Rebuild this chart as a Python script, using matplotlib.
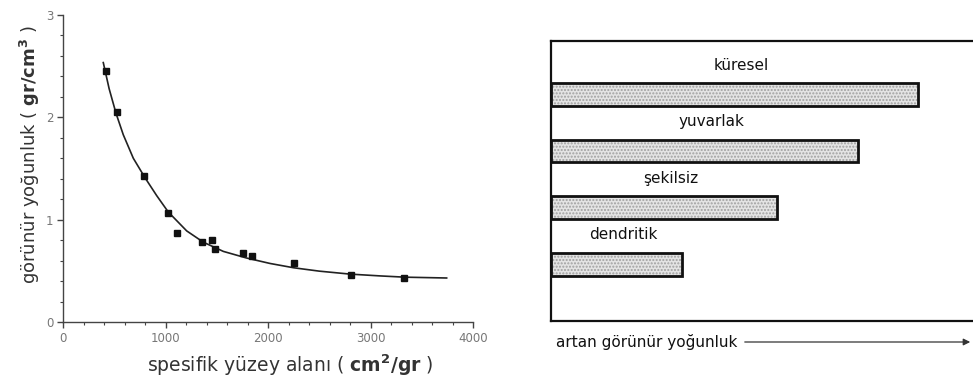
import matplotlib
matplotlib.use('Agg')
import matplotlib.pyplot as plt
from matplotlib.ticker import MultipleLocator

# left panel: measured points
area = [420, 524, 794, 1021, 1112, 1353, 1454, 1483, 1756, 1847, 2251, 2813, 3330]
density = [2.45, 2.05, 1.43, 1.07, 0.87, 0.78, 0.80, 0.71, 0.67, 0.645, 0.58, 0.46, 0.43]

# fitted curve
curve_x = [393, 450, 517, 588, 686, 800, 914, 1027, 1207, 1369, 1564, 1792, 2020, 2250, 2500, 2800, 3100, 3337, 3743]
curve_y = [2.535, 2.28, 2.04, 1.83, 1.60, 1.41, 1.235, 1.075, 0.89, 0.78, 0.69, 0.625, 0.572, 0.53, 0.497, 0.468, 0.45, 0.438, 0.43]

# right panel: shapes vs apparent density
shapes = ['dendritik', 'şekilsiz', 'yuvarlak', 'küresel']
shape_density = [30.5, 52.6, 71.6, 85.5]

fig = plt.figure(figsize=(9.73, 3.87), dpi=100)

# ---- left: density vs specific surface ----
ax = fig.add_axes([63/973, 65/387, 410/973, 307/387])
ax.plot(curve_x, curve_y, color='#222222', lw=1.2, zorder=2, solid_joinstyle='round')
ax.plot(area, density, 's', color='#111111', ms=5, zorder=3)
ax.set_xlim(0, 4000)
ax.set_ylim(0, 3)
ax.xaxis.set_major_locator(MultipleLocator(1000))
ax.xaxis.set_minor_locator(MultipleLocator(200))
ax.yaxis.set_major_locator(MultipleLocator(1))
ax.yaxis.set_minor_locator(MultipleLocator(0.2))
ax.spines['top'].set_visible(False)
ax.spines['right'].set_visible(False)
for s in ['left', 'bottom']:
    ax.spines[s].set_color('#444444')
    ax.spines[s].set_linewidth(1.0)
ax.tick_params(which='major', length=4, width=1, color='#444444', labelcolor='#777777', labelsize=8.5, pad=3)
ax.tick_params(which='minor', length=2.5, width=0.8, color='#444444')
ax.set_xlabel(r'spesifik yüzey alanı ( $\mathbf{cm^2/gr}$ )', fontsize=13.5, color='#333333')
ax.set_ylabel(r'görünür yoğunluk ( $\mathbf{gr/cm^3}$ )', fontsize=13, color='#333333')
ax.xaxis.set_label_coords(0.555, -0.1)
ax.yaxis.set_label_coords(-0.05, 0.545)

# ---- right: bar sketch ----
bx = fig.add_axes([551/973, 66/387, 440/973, 280.3/387])
pos = list(range(len(shapes)))
bx.barh(pos, shape_density, height=0.40, color='#e4e4e4', edgecolor='#a0a0a0',
        hatch='.....', linewidth=0, zorder=2)
bx.barh(pos, shape_density, height=0.40, fill=False, edgecolor='#111111', linewidth=2, zorder=3)
for p, name, v in zip(pos, shapes, shape_density):
    bx.text(v / 2 + 1.5, p + 0.52, name, ha='center', va='center', fontsize=11, color='#111111')
bx.set_xlim(0, 102.5)
bx.set_ylim(-1.0, 3.95)
bx.set_xticks([])
bx.set_yticks([])
for s in bx.spines.values():
    s.set_linewidth(1.6)
    s.set_color('#111111')

fig.text(556/973, 1 - 342/387, 'artan görünür yoğunluk', fontsize=11, ha='left', va='center', color='#111111')
fig.add_artist(matplotlib.patches.FancyArrowPatch((742/973, 1 - 342/387), (973/973, 1 - 342/387),
               transform=fig.transFigure, arrowstyle='-|>', mutation_scale=10, lw=0.9, color='#333333'))

fig.savefig('out.png', dpi=100, facecolor='white')
